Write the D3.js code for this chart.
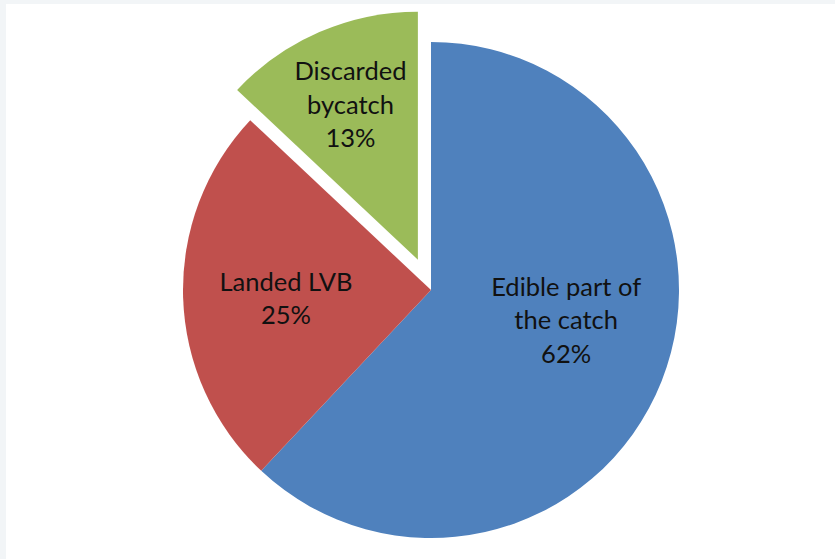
<!DOCTYPE html>
<html>
<head>
<meta charset="utf-8">
<script src="https://cdn.jsdelivr.net/npm/d3@7"></script>
<style>
  html, body { margin: 0; padding: 0; background: #f2f5f7; }
  svg { display: block; }
</style>
</head>
<body>
<svg id="chart" width="835" height="559"></svg>
<script>
// ---- data ----
const categories = ["Edible part of the catch", "Landed LVB", "Discarded bycatch"];
const labelLines = [["Edible part of", "the catch"], ["Landed LVB"], ["Discarded", "bycatch"]];
const values = [62, 25, 13];
const colors = ["#4F81BD", "#C0504D", "#9BBB59"];

// ---- layout ----
const W = 835, H = 559;
const cx = 431, cy = 290, R = 248;
const explode = [0, 0, 33];
const labelRadius = [0.56, 0.585, 0.685];
const labelNudge = [[6, -21], [0, 4], [0, 1]];
const lineH = 33.5;

const svg = d3.select("#chart");
svg.append("rect").attr("x", 6).attr("y", 4).attr("width", W).attr("height", H).attr("fill", "#ffffff");

const total = d3.sum(values);
const pie = d3.pie().sort(null).value(d => d)(values);
const arc = d3.arc().innerRadius(0).outerRadius(R);

const g = svg.append("g").attr("transform", `translate(${cx},${cy})`);

pie.forEach((p, i) => {
  const mid = (p.startAngle + p.endAngle) / 2;
  const ox = Math.sin(mid) * explode[i], oy = -Math.cos(mid) * explode[i];
  const sg = g.append("g").attr("transform", `translate(${ox},${oy})`);
  sg.append("path").attr("d", arc(p)).attr("fill", colors[i]);

  const lr = R * labelRadius[i];
  const lx = Math.sin(mid) * lr + labelNudge[i][0];
  const ly = -Math.cos(mid) * lr + labelNudge[i][1];
  const lines = labelLines[i].concat([Math.round(values[i] / total * 100) + "%"]);
  const t = sg.append("text")
    .attr("text-anchor", "middle")
    .attr("font-family", "Lato, 'Open Sans', sans-serif")
    .attr("font-size", 25.5)
    .attr("fill", "#111");
  lines.forEach((ln, k) => {
    t.append("tspan")
      .attr("x", lx)
      .attr("y", ly + (k - (lines.length - 1) / 2) * lineH)
      .attr("dy", "0.35em")
      .text(ln);
  });
});
</script>
</body>
</html>
